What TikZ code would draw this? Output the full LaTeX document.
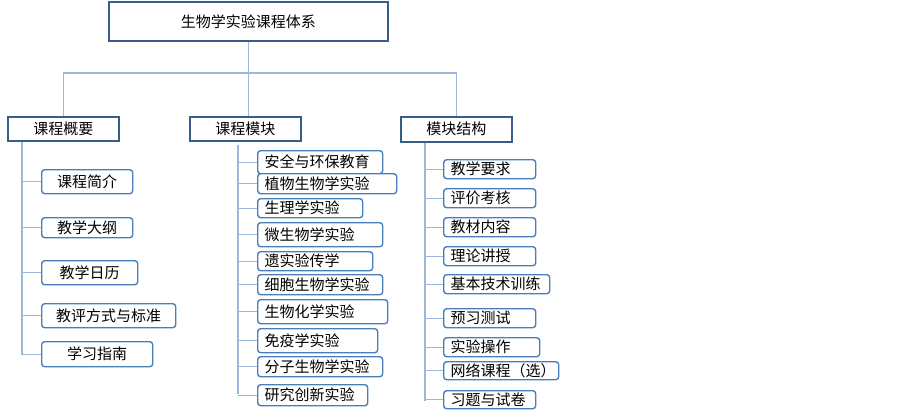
\documentclass[tikz,border=0pt]{standalone}
\usepackage{fontspec}
\newfontfamily\cjk{Noto Sans CJK SC}
\definecolor{lineblue}{HTML}{9BB7D9}
\definecolor{darkblue}{HTML}{385D8A}
\definecolor{midblue}{HTML}{4A7EBB}
\begin{document}
\begin{tikzpicture}[x=1pt,y=-1pt,
  conn/.style={draw=lineblue, line width=1.2pt},
  topbox/.style={draw=darkblue, line width=1.6pt, fill=white, anchor=north west, inner sep=0pt, font=\cjk\fontsize{15}{17}\selectfont},
  kid/.style={draw=midblue, line width=1.4pt, rounded corners=3pt, fill=white, anchor=north west, inner sep=0pt, font=\cjk\fontsize{15}{17}\selectfont},
  lft/.style={text width=#1, align=left, inner xsep=7pt}]
\useasboundingbox (0,0) rectangle (903,412);
% level 1 and 2
\node[topbox, minimum width=279pt, minimum height=39pt] (top) at (108,1) {生物学实验课程体系};
\node[topbox, minimum width=111pt, minimum height=24pt] (m1) at (7,116) {课程概要};
\node[topbox, minimum width=111pt, minimum height=24pt] (m2) at (189,116) {课程模块};
\node[topbox, minimum width=111pt, minimum height=25pt] (m3) at (400,116) {模块结构};
\coordinate (hub) at (247.5,73);
\draw[conn] (top.south) -- (top.south |- m2.north);
\draw[conn] (m1.north) |- (hub) -| (m3.north);
% left column
\node[kid, minimum width=91pt, minimum height=24pt] (a1) at (41,169) {课程简介};
\node[kid, minimum width=91pt, minimum height=20pt] (a2) at (41,217) {教学大纲};
\node[kid, minimum width=96pt, minimum height=24pt] (a3) at (41,260) {教学日历};
\node[kid, minimum width=134pt, minimum height=24pt] (a4) at (41,303) {教评方式与标准};
\node[kid, minimum width=111pt, minimum height=25pt] (a5) at (41,341) {学习指南};
\coordinate (lb) at (22,355);
\draw[conn] (m1.south -| lb) -- (lb);
\foreach \n in {a1,a2,a3,a4,a5} \draw[conn] (\n.west) -- (\n.west -| lb);
% middle column
\node[kid, lft=111pt, minimum width=125pt, minimum height=23pt] (b1) at (257,150) {安全与环保教育};
\node[kid, lft=125pt, minimum width=139pt, minimum height=20pt] (b2) at (257,173) {植物生物学实验};
\node[kid, lft=91pt, minimum width=105pt, minimum height=19pt] (b3) at (257,198) {生理学实验};
\node[kid, lft=111pt, minimum width=125pt, minimum height=24pt] (b4) at (257,222) {微生物学实验};
\node[kid, lft=101pt, minimum width=115pt, minimum height=19pt] (b5) at (257,251) {遗实验传学};
\node[kid, lft=111pt, minimum width=125pt, minimum height=20pt] (b6) at (257,274) {细胞生物学实验};
\node[kid, lft=116pt, minimum width=130pt, minimum height=24pt] (b7) at (257,299) {生物化学实验};
\node[kid, lft=106pt, minimum width=120pt, minimum height=24pt] (b8) at (257,328) {免疫学实验};
\node[kid, lft=111pt, minimum width=125pt, minimum height=20pt] (b9) at (257,356) {分子生物学实验};
\node[kid, lft=96pt, minimum width=110pt, minimum height=21pt] (b10) at (257,384) {研究创新实验};
\coordinate (mt) at (238,145);
\coordinate (mb) at (238,394);
\draw[conn] (mt) -- (mb);
\foreach \n in {b1,b2,b3,b4,b5,b6,b7,b8,b9,b10} \draw[conn] (\n.west) -- (\n.west -| mb);
% right column
\node[kid, lft=78pt, minimum width=92pt, minimum height=19pt] (c1) at (443,159) {教学要求};
\node[kid, lft=78pt, minimum width=92pt, minimum height=19pt] (c2) at (443,188) {评价考核};
\node[kid, lft=78pt, minimum width=92pt, minimum height=19pt] (c3) at (443,217) {教材内容};
\node[kid, lft=78pt, minimum width=92pt, minimum height=19pt] (c4) at (443,246) {理论讲授};
\node[kid, lft=92pt, minimum width=106pt, minimum height=19pt] (c5) at (443,274) {基本技术训练};
\node[kid, lft=78pt, minimum width=92pt, minimum height=19pt] (c6) at (443,308) {预习测试};
\node[kid, lft=82pt, minimum width=96pt, minimum height=19pt] (c7) at (443,337) {实验操作};
\node[kid, lft=101pt, minimum width=115pt, minimum height=18pt] (c8) at (443,361) {网络课程（选）};
\node[kid, lft=78pt, minimum width=92pt, minimum height=18pt] (c9) at (443,390) {习题与试卷};
\coordinate (rb) at (425,401);
\draw[conn] (m3.south -| rb) -- (rb);
\foreach \n in {c1,c2,c3,c4,c5,c6,c7,c8,c9} \draw[conn] (\n.west) -- (\n.west -| rb);
\end{tikzpicture}
\end{document}
